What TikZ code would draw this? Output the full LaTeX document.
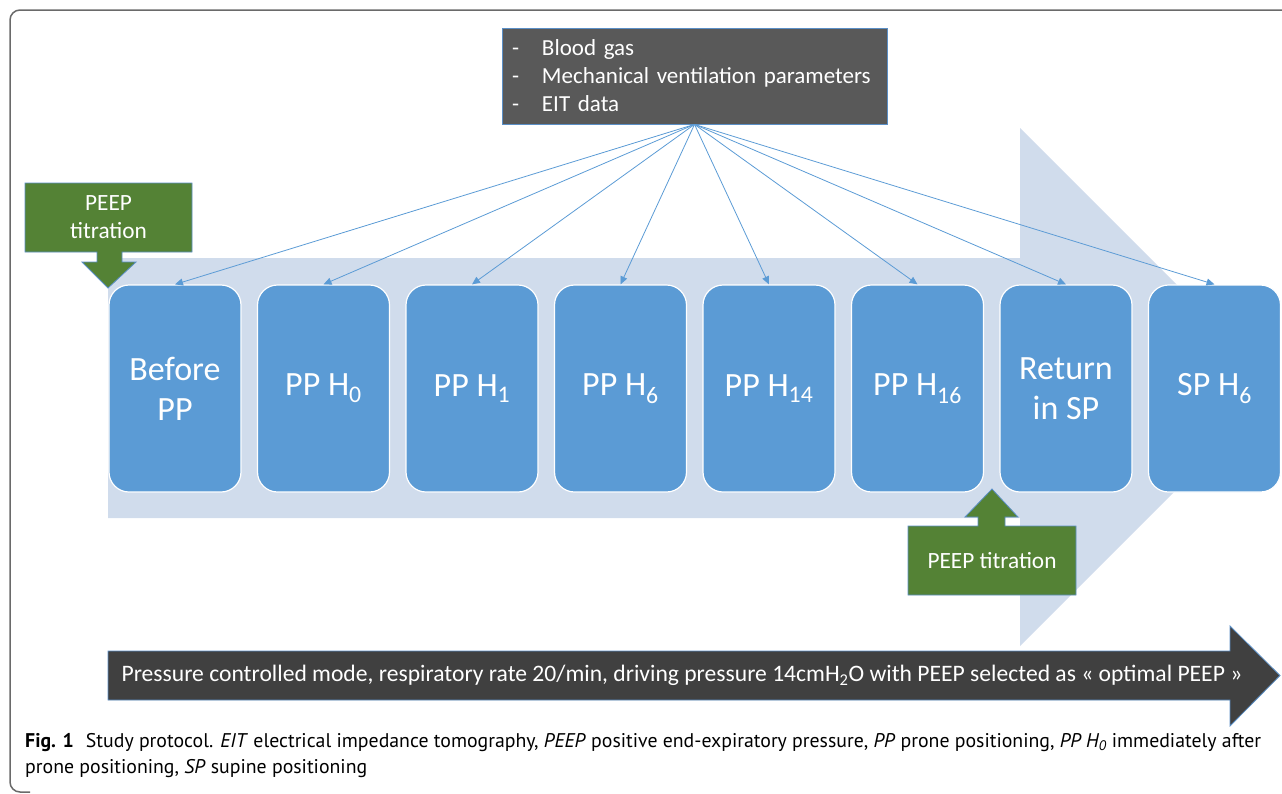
\documentclass[tikz,border=0pt]{standalone}
\usepackage{fontspec}
\setmainfont{Carlito}
\newfontfamily\captionfont{PT Sans}
\usetikzlibrary{arrows.meta}
\definecolor{stageBlue}{HTML}{5B9BD5}
\definecolor{flowBlue}{HTML}{D0DCEC}
\definecolor{peepGreen}{HTML}{548235}
\definecolor{edgeBlue}{HTML}{5B8FC6}
\definecolor{dataGray}{HTML}{595959}
\definecolor{modeGray}{HTML}{404040}
\definecolor{frameGray}{HTML}{6A6A6A}
\newcommand{\stageWidth}{132}
\newcommand{\stageHeight}{207}
\newcommand{\stagePitch}{148.5}
\newcommand{\stageLeft}{175}
\newcommand{\stageMid}{388.5}
\newcommand{\stageNames}{0/{Before\\PP}, 1/{PP H\textsubscript{0}}, 2/{PP H\textsubscript{1}}, 3/{PP H\textsubscript{6}}, 4/{PP H\textsubscript{14}}, 5/{PP H\textsubscript{16}}, 6/{Return\\in SP}, 7/{SP H\textsubscript{6}}}
\newcommand{\dataItem}[1]{\makebox[30pt][l]{-}#1}

\begin{document}
\begin{tikzpicture}[x=1pt, y=-1pt,
	stageBox/.style={draw=white, line width=1.2pt, fill=stageBlue, rounded corners=20pt, minimum width=\stageWidth pt, minimum height=\stageHeight pt, text=white, align=center, font=\fontsize{34}{40}\selectfont},
	peepShape/.style={fill=peepGreen, draw=edgeBlue, line width=0.8pt},
	peepText/.style={text=white, align=center, font=\fontsize{23.3}{28}\selectfont},
	link/.style={draw=stageBlue, line width=0.8pt, -{Triangle[length=8pt, width=7pt]}}]
	\useasboundingbox (0,0) rectangle (1282,793);
	
	\draw[frameGray, line width=1.5pt, rounded corners=10pt] (30,792) -- (10,792) -- (10,10) -- (1300,10);
	
	% time line in the background
	\fill[flowBlue] (108,258) -- (1020,258) -- (1020,128) -- (1279,387) -- (1020,646) -- (1020,518) -- (108,518) -- cycle;
	
	\foreach \idx/\name in \stageNames
	{
		\node[stageBox] (stage\idx) at ({\stageLeft + \idx * \stagePitch}, \stageMid) {\name};
	}
	
	% PEEP titration callouts
	\draw[peepShape] (25,183) -- ++(167,0) -- ++(0,69) -- (122,252) -- ++(0,10) -- (136,262) -- (108,288) -- (82,262) -- (97,262) -- ++(0,-10) -- (25,252) -- cycle;
	\node[peepText] (peepBefore) at (108.5,217.5) {PEEP\\titration};
	\draw[peepShape] (908,595) -- ++(168,0) -- ++(0,-69) -- (1005,526) -- ++(0,-9) -- (1018,517) -- (992,489) -- (965,517) -- (978,517) -- ++(0,9) -- (908,526) -- cycle;
	\node[peepText] (peepReturn) at (992,560.5) {PEEP titration};
	
	\node[fill=dataGray, draw=edgeBlue, line width=0.8pt, minimum width=385pt, minimum height=96pt, text width=365pt, inner xsep=10pt, align=left, text=white, font=\fontsize{23}{28}\selectfont] (data) at (694.5,76) {\dataItem{Blood gas}\\\dataItem{Mechanical ventilation parameters}\\\dataItem{EIT data}};
	
	\foreach \idx in {0,...,7}
		\draw[link] (data.south) -- (stage\idx.north);
	
	\draw[fill=modeGray, draw=edgeBlue, line width=0.8pt] (108,651) -- (1230,651) -- (1230,626) -- (1280,675.5) -- (1230,726) -- (1230,700) -- (108,700) -- cycle;
	\node[text=white, font=\fontsize{23.6}{28}\selectfont] (mode) at (682,675.5) {Pressure controlled mode, respiratory rate 20/min, driving pressure 14cmH\textsubscript{2}O with PEEP selected as « optimal PEEP »};
	
	\node[anchor=base west, inner sep=0pt, font=\captionfont\fontsize{19.8}{24}\selectfont] (capA) at (25,747) {\textbf{Fig. 1}\hspace{12pt}Study protocol. \textit{EIT} electrical impedance tomography, \textit{PEEP} positive end-expiratory pressure, \textit{PP} prone positioning, \textit{PP H\textsubscript{0}} immediately after};
	\node[anchor=base west, inner sep=0pt, font=\captionfont\fontsize{19.8}{24}\selectfont] (capB) at (25,773) {prone positioning, \textit{SP} supine positioning};
\end{tikzpicture}
\end{document}
